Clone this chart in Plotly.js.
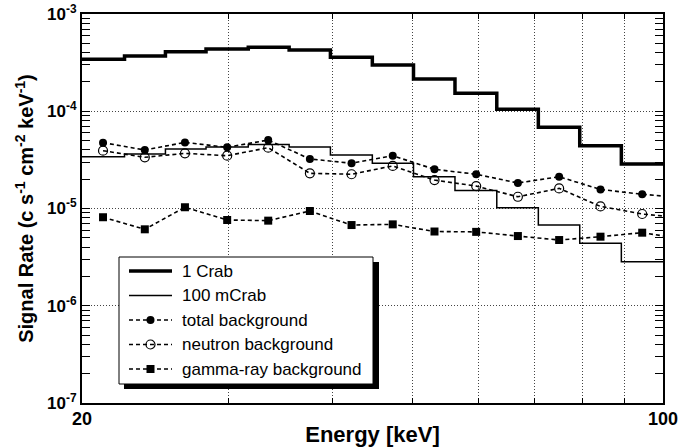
<!DOCTYPE html>
<html>
<head>
<meta charset="utf-8">
<script src="https://cdn.plot.ly/plotly-3.0.1.min.js"></script>
<style>html,body{margin:0;padding:0;background:#fff;}#chart{width:679px;height:447px;}</style>
</head>
<body>
<div id="chart"></div>
<script>
// ---- data ----
const binEdges = [20, 22.5, 25.2, 28.2, 31.7, 35.5, 39.8, 44.7, 50.1, 56.2, 63.1, 70.8, 79.4, 89.1, 100];
const crab1 = [3.42e-4, 3.70e-4, 4.09e-4, 4.36e-4, 4.54e-4, 4.27e-4, 3.59e-4, 2.99e-4, 2.15e-4, 1.53e-4, 1.05e-4, 6.84e-5, 4.43e-5, 2.87e-5];
const mcrab100 = [3.41e-5, 3.63e-5, 4.09e-5, 4.30e-5, 4.56e-5, 4.30e-5, 3.55e-5, 2.92e-5, 2.12e-5, 1.53e-5, 1.02e-5, 6.76e-6, 4.40e-6, 2.84e-6];
const binCenters = [21.2, 23.8, 26.6, 29.9, 33.5, 37.6, 42.2, 47.3, 53.1, 59.6, 66.9, 75.0, 84.1, 94.4, 105.9];
const totalBg = [4.75e-5, 4.00e-5, 4.78e-5, 4.26e-5, 5.06e-5, 3.23e-5, 2.92e-5, 3.49e-5, 2.53e-5, 2.25e-5, 1.83e-5, 2.12e-5, 1.57e-5, 1.40e-5, 1.29e-5];
const neutronBg = [3.93e-5, 3.36e-5, 3.69e-5, 3.49e-5, 4.22e-5, 2.30e-5, 2.25e-5, 2.74e-5, 1.96e-5, 1.70e-5, 1.32e-5, 1.61e-5, 1.05e-5, 8.78e-6, 7.98e-6];
const gammaBg = [8.13e-6, 6.11e-6, 1.03e-5, 7.62e-6, 7.50e-6, 9.42e-6, 6.76e-6, 6.87e-6, 5.80e-6, 5.75e-6, 5.21e-6, 4.74e-6, 5.13e-6, 5.64e-6, 4.85e-6];
const seriesNames = ["1 Crab", "100 mCrab", "total background", "neutron background", "gamma-ray background"];
const xTickVals = [20, 100];
const xTickText = ["20", "100"];
const xGridVals = [30, 40, 50, 60, 70, 80, 90];
const yTickVals = [1e-7, 1e-6, 1e-5, 1e-4, 1e-3];
const yTickText = ["10<sup>-7</sup>", "10<sup>-6</sup>", "10<sup>-5</sup>", "10<sup>-4</sup>", "10<sup>-3</sup>"];

// ---- build ----
const stepY = a => a.concat([a[a.length - 1]]);
const yMinor = [];
for (let d = -7; d < -3; d++) for (let m = 2; m <= 9; m++) yMinor.push(m * Math.pow(10, d));

const FONT = "Liberation Sans, Arial, Helvetica, sans-serif";
const dashed = {color: "black", width: 1.6, dash: "4px,3px"};

const traces = [
  {x: binEdges, y: stepY(crab1), mode: "lines", line: {color: "black", width: 3.5, shape: "hv"}, name: seriesNames[0]},
  {x: binEdges, y: stepY(mcrab100), mode: "lines", line: {color: "black", width: 1.5, shape: "hv"}, name: seriesNames[1]},
  {x: binCenters, y: totalBg, mode: "lines+markers", line: dashed, marker: {symbol: "circle", size: 8, color: "black"}, name: seriesNames[2]},
  {x: binCenters, y: neutronBg, mode: "lines+markers", line: dashed, marker: {symbol: "circle-open", size: 9, color: "black", line: {width: 1.2, color: "black"}}, name: seriesNames[3]},
  {x: binCenters, y: gammaBg, mode: "lines+markers", line: dashed, marker: {symbol: "square", size: 8, color: "black"}, name: seriesNames[4]}
];

// plot area in pixels: left 82, right 663, top 14, bottom 403
const L = 82, R = 663, T = 14, B = 403;
const px = x => (x - L) / (R - L);
const py = y => (B - y) / (B - T);

const shapes = [];
const annotations = [];
// legend shadow and box
shapes.push({type: "rect", xref: "paper", yref: "paper", x0: px(124), x1: px(379), y0: py(389), y1: py(262), fillcolor: "black", line: {width: 0}, layer: "above"});
shapes.push({type: "rect", xref: "paper", yref: "paper", x0: px(119), x1: px(373), y0: py(384), y1: py(257), fillcolor: "white", line: {color: "black", width: 1}, layer: "above"});
const rowsY = [271, 295.5, 320, 344.5, 369];
const sx0 = 129, sx1 = 172, sxm = 150.5;
rowsY.forEach((ry, i) => {
  let ln;
  if (i === 0) ln = {color: "black", width: 3.5};
  else if (i === 1) ln = {color: "black", width: 1.5};
  else ln = dashed;
  shapes.push({type: "line", xref: "paper", yref: "paper", x0: px(sx0), x1: px(sx1), y0: py(ry), y1: py(ry), line: ln, layer: "above"});
  if (i === 2) shapes.push({type: "circle", xref: "paper", yref: "paper", x0: px(sxm - 4), x1: px(sxm + 4), y0: py(ry + 4), y1: py(ry - 4), fillcolor: "black", line: {color: "black", width: 0}, layer: "above"});
  if (i === 3) shapes.push({type: "circle", xref: "paper", yref: "paper", x0: px(sxm - 4.5), x1: px(sxm + 4.5), y0: py(ry + 4.5), y1: py(ry - 4.5), line: {color: "black", width: 1.2}, layer: "above"});
  if (i === 4) shapes.push({type: "rect", xref: "paper", yref: "paper", x0: px(sxm - 4), x1: px(sxm + 4), y0: py(ry + 4), y1: py(ry - 4), fillcolor: "black", line: {color: "black", width: 0}, layer: "above"});
  annotations.push({xref: "paper", yref: "paper", x: px(180), y: py(ry), xanchor: "left", yanchor: "middle", text: seriesNames[i], showarrow: false, font: {family: FONT, size: 17, color: "black"}});
});

const layout = {
  width: 679, height: 447,
  margin: {l: L, r: 679 - R, t: T, b: 447 - B, pad: 0},
  paper_bgcolor: "white", plot_bgcolor: "white",
  showlegend: false,
  font: {family: FONT, color: "black"},
  xaxis: {
    type: "log", range: [Math.log10(20), Math.log10(100)],
    tickmode: "array", tickvals: xTickVals, ticktext: xTickText,
    tickfont: {family: FONT, size: 18, color: "black", weight: "bold"},
    ticklabelstandoff: -2,
    ticks: "inside", ticklen: 5, tickcolor: "black", tickwidth: 1,
    showgrid: false,
    minor: {tickmode: "array", tickvals: xGridVals, ticks: "inside", ticklen: 5, tickcolor: "black", tickwidth: 1,
            showgrid: true, gridcolor: "#444", griddash: "1px,2px", gridwidth: 1},
    showline: true, linecolor: "black", linewidth: 2, mirror: "ticks",
    zeroline: false,
    title: {text: "<b>Energy [keV]</b>", font: {family: FONT, size: 22, color: "black"}, standoff: 0}
  },
  yaxis: {
    type: "log", range: [-7, -3],
    tickmode: "array", tickvals: yTickVals, ticktext: yTickText,
    tickfont: {family: FONT, size: 17, color: "black", weight: "bold"},
    ticks: "inside", ticklen: 8, tickcolor: "black", tickwidth: 1,
    minor: {tickmode: "array", tickvals: yMinor, ticks: "inside", ticklen: 8, tickcolor: "black", tickwidth: 1, showgrid: false},
    showgrid: true, gridcolor: "#444", griddash: "1px,2px", gridwidth: 1,
    showline: true, linecolor: "black", linewidth: 2, mirror: "ticks",
    zeroline: false,
    title: {text: "<b>Signal Rate (c s<sup>-1</sup> cm<sup>-2</sup> keV<sup>-1</sup>)</b>", font: {family: FONT, size: 20, color: "black"}, standoff: 8}
  },
  shapes: shapes,
  annotations: annotations
};

Plotly.newPlot("chart", traces, layout, {displayModeBar: false, staticPlot: true});
</script>
</body>
</html>
